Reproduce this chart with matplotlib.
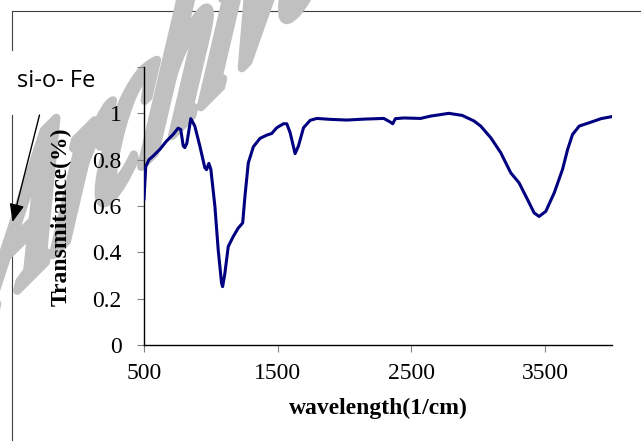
import matplotlib
matplotlib.use('Agg')
import numpy as np
import matplotlib.pyplot as plt
from matplotlib.textpath import TextPath
from matplotlib.patches import PathPatch
from matplotlib.font_manager import FontProperties
from matplotlib.transforms import Affine2D

# FTIR spectrum
wavenumber = [500, 513, 537, 567, 618, 668, 718, 755, 775, 793, 805, 820, 850, 880,
              918, 955, 968, 985, 1000, 1030, 1055, 1080, 1088, 1105, 1130, 1168,
              1205, 1238, 1255, 1280, 1318, 1368, 1418, 1455, 1493, 1543, 1568,
              1593, 1630, 1655, 1693, 1743, 1793, 1893, 2018, 2143, 2293, 2343,
              2360, 2380, 2443, 2568, 2643, 2780, 2880, 2968, 3018, 3093, 3168,
              3243, 3305, 3368, 3418, 3455, 3505, 3568, 3630, 3668, 3705, 3755,
              3843, 3918, 4000]
transmit = [0.63, 0.77, 0.80, 0.815, 0.844, 0.88, 0.909, 0.936, 0.93, 0.86, 0.852,
            0.87, 0.977, 0.945, 0.858, 0.765, 0.757, 0.784, 0.758, 0.60, 0.41,
            0.267, 0.252, 0.31, 0.425, 0.469, 0.505, 0.527, 0.642, 0.786, 0.856,
            0.892, 0.906, 0.913, 0.938, 0.955, 0.955, 0.916, 0.826, 0.859, 0.938,
            0.970, 0.978, 0.974, 0.971, 0.975, 0.978, 0.962, 0.955, 0.977, 0.98,
            0.978, 0.988, 1.0, 0.991, 0.967, 0.945, 0.895, 0.830, 0.743, 0.70,
            0.628, 0.570, 0.555, 0.577, 0.657, 0.758, 0.844, 0.909, 0.945, 0.962,
            0.977, 0.986]
xticks = [500, 1500, 2500, 3500]
yticks = [0, 0.2, 0.4, 0.6, 0.8, 1, 1.2]
ytick_labels = ['0', '0.2', '0.4', '0.6', '0.8', '1', '']

W, H = 641, 441
fig = plt.figure(figsize=(W / 100, H / 100), dpi=100)
ax = fig.add_axes([144 / W, 1 - 345 / H, (612 - 144) / W, (345 - 67) / H])

ax.plot(wavenumber, transmit, color='#000080', lw=2.2, zorder=3)
ax.set_xlim(500, 4000)
ax.set_ylim(0, 1.2)
ax.set_xticks(xticks)
ax.set_xticklabels([str(t) for t in xticks])
ax.set_yticks(yticks)
ax.set_yticklabels(ytick_labels)
for s in ['top', 'right']:
    ax.spines[s].set_visible(False)
for s in ['left', 'bottom']:
    ax.spines[s].set_linewidth(1.0)
ax.tick_params(length=5, width=0.8, color='#808080', labelsize=17)
ax.tick_params(axis='y', pad=11)
ax.tick_params(axis='x', pad=8)
for lab in ax.get_xticklabels() + ax.get_yticklabels():
    lab.set_fontfamily('Liberation Serif')

ax.set_xlabel('wavelength(1/cm)', fontsize=17, fontweight='bold',
              fontfamily='Liberation Serif')
ax.xaxis.set_label_coords(0.5, -0.19)
ax.set_ylabel('Transmitance(%)', fontsize=17, fontweight='bold',
              fontfamily='Liberation Serif')
ax.yaxis.set_label_coords(-0.155, 0.46)

# slanted grey watermark, drawn as a sheared text path (pixel units)
wm = TextPath((0, 0), 'Archive', size=1,
              prop=FontProperties(family='Liberation Serif', weight='bold', style='italic'))
lb, lu = 150, 250
ab, au = np.radians(45), np.radians(80)
x0, y0 = -20, H - 328
shear = Affine2D(np.array([[lb * np.cos(ab), lu * np.cos(au), x0],
                           [lb * np.sin(ab), lu * np.sin(au), y0],
                           [0, 0, 1]]))
patch = PathPatch(wm, facecolor='#c0c0c0', edgecolor='#c0c0c0', lw=6,
                  joinstyle='round',
                  transform=shear + Affine2D().scale(1 / fig.dpi) + fig.dpi_scale_trans)
patch.set_clip_on(False)
patch.set_zorder(0.5)
ax.add_artist(patch)

# page frame
fig.add_artist(plt.Line2D([11.5 / W, 1], [1 - 10.5 / H] * 2, color='#404040', lw=0.8, zorder=-1))
fig.add_artist(plt.Line2D([11.5 / W] * 2, [1 - 10.5 / H, 1 - 50 / H], color='#404040', lw=0.8, zorder=-1))
fig.add_artist(plt.Line2D([11.5 / W] * 2, [1 - 115 / H, 0], color='#404040', lw=0.8, zorder=-1))

fig.text(17 / W, 1 - 81 / H, 'si-o- Fe', fontsize=17, family='Open Sans',
         ha='left', va='center')
ax.annotate('', xy=(12.5, H - 222), xycoords='figure pixels',
            xytext=(39.5, H - 115), textcoords='figure pixels',
            arrowprops=dict(arrowstyle='-|>,head_length=1.1,head_width=0.45',
                            color='black', lw=1.0, shrinkA=0, shrinkB=0),
            annotation_clip=False)

plt.savefig('out.png', dpi=100)
plt.close()
